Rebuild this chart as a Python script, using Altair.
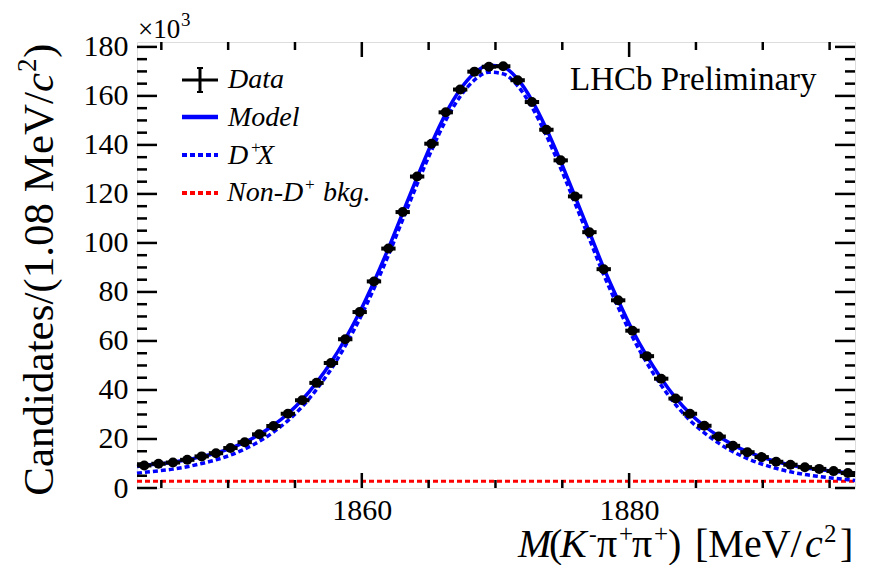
import altair as alt
import pandas as pd

# ---------------- data (in units of 10^3) -------
mass = [1843.72, 1844.79, 1845.87, 1846.94, 1848.02, 1849.09, 1850.17, 1851.24,
        1852.32, 1853.39, 1854.47, 1855.54, 1856.61, 1857.69, 1858.76, 1859.84,
        1860.91, 1861.99, 1863.06, 1864.14, 1865.21, 1866.28, 1867.36, 1868.43,
        1869.51, 1870.58, 1871.66, 1872.73, 1873.81, 1874.88, 1875.96, 1877.03,
        1878.10, 1879.18, 1880.25, 1881.33, 1882.40, 1883.48, 1884.55, 1885.63,
        1886.70, 1887.77, 1888.85, 1889.92, 1891.00, 1892.07, 1893.15, 1894.22,
        1895.30, 1896.37]
counts = [9.2, 9.9, 10.4, 11.5, 12.9, 14.2, 16.3, 18.7, 21.9, 25.3,
          30.3, 35.8, 42.9, 51.0, 60.7, 71.8, 84.3, 97.7, 112.6, 127.1,
          140.5, 153.3, 162.6, 169.9, 171.9, 172.1, 166.4, 157.5, 146.2, 133.7,
          119.0, 104.4, 89.3, 76.6, 64.2, 53.8, 44.6, 36.5, 30.3, 25.4,
          21.0, 17.2, 14.6, 12.6, 10.7, 9.5, 8.5, 7.8, 6.9, 6.1]
bin_half = 0.537

x_lo, x_hi = 1843.18, 1896.9
curve_mass = [x_lo] + mass + [x_hi]
model = [8.8, 9.2, 9.8, 10.5, 11.5, 12.8, 14.3, 16.2, 18.7, 21.8, 25.6,
         30.3, 36.0, 43.0, 51.2, 60.8, 71.8, 84.2, 97.8, 112.3, 126.8,
         140.5, 152.8, 162.6, 169.3, 172.5, 171.8, 166.9, 158.2, 146.6, 133.3,
         118.9, 104.4, 89.8, 76.6, 64.4, 53.8, 44.7, 36.8, 30.4, 25.3,
         21.1, 17.6, 14.8, 12.6, 10.8, 9.4, 8.3, 7.5, 6.8, 6.2, 5.9]
dplusx = [6.0, 6.4, 7.0, 7.7, 8.7, 10.0, 11.5, 13.4, 15.9, 19.0, 22.8,
          27.5, 33.2, 40.2, 48.4, 58.0, 69.0, 81.4, 95.0, 109.5, 124.0,
          137.7, 150.0, 159.8, 166.5, 169.7, 169.0, 164.1, 155.4, 143.8, 130.5,
          116.1, 101.6, 87.0, 73.8, 61.6, 51.0, 41.9, 34.0, 27.6, 22.5,
          18.3, 14.8, 12.0, 9.8, 8.0, 6.6, 5.5, 4.7, 4.0, 3.4, 3.1]
bkg_mass = [x_lo, x_hi]
bkg = [2.8, 2.8]

x_major = [1860, 1880]
x_minor = [1845, 1850, 1855, 1865, 1870, 1875, 1885, 1890, 1895]
y_major = [0, 20, 40, 60, 80, 100, 120, 140, 160, 180]
y_minor = [5, 10, 15, 25, 30, 35, 45, 50, 55, 65, 70, 75, 85, 90, 95, 105, 110,
           115, 125, 130, 135, 145, 150, 155, 165, 170, 175]

# ---------------- layout -------------------------------------------------------
W, H = 718, 446
OX, OY = 137, 42          # plot origin on the page
FONT = "Liberation Serif"
BLUE, RED = "#0000ff", "#ff0000"

data_df = pd.DataFrame({"m": mass, "n": counts,
                        "lo": [m - bin_half for m in mass],
                        "hi": [m + bin_half for m in mass]})
model_df = pd.DataFrame({"m": curve_mass, "model": model, "dx": dplusx})
bkg_df = pd.DataFrame({"m": bkg_mass, "b": bkg})

xs = alt.Scale(domain=[x_lo, x_hi], nice=False, zero=False)
ys = alt.Scale(domain=[0, 182], nice=False, zero=False)
AX = alt.Axis(values=x_major, format="d", ticks=False, domain=False, grid=False,
              labelFont=FONT, labelFontSize=30, labelColor="black", labelPadding=7,
              title=None)
AY = alt.Axis(values=y_major, format="d", ticks=False, domain=False, grid=False,
              labelFont=FONT, labelFontSize=30, labelColor="black", labelPadding=9,
              title=None)


def X(f):
    return alt.X(f, scale=xs, axis=AX)


def Y(f):
    return alt.Y(f, scale=ys, axis=AY)


one = pd.DataFrame({"k": [0]})


def txt(s, px, py, size, style="normal", align="left", angle=0, color="black"):
    return alt.Chart(one).mark_text(
        text=s, font=FONT, fontSize=size, fontStyle=style, align=align,
        baseline="alphabetic", angle=angle, color=color
    ).encode(x=alt.value(px - OX), y=alt.value(py - OY))


def hrule(x1, x2, y, color, width, dash=None):
    kw = dict(color=color, strokeWidth=width)
    if dash:
        kw["strokeDash"] = dash
    return alt.Chart(one).mark_rule(**kw).encode(
        x=alt.value(x1 - OX), x2=alt.value(x2 - OX), y=alt.value(y - OY))


def vrule(x, y1, y2, color, width):
    return alt.Chart(one).mark_rule(color=color, strokeWidth=width).encode(
        x=alt.value(x - OX), y=alt.value(y1 - OY), y2=alt.value(y2 - OY))


bkg_line = alt.Chart(bkg_df).mark_line(color=RED, strokeWidth=3, strokeDash=[5, 3]).encode(
    x=X("m:Q"), y=Y("b:Q"))
dx_line = alt.Chart(model_df).mark_line(color=BLUE, strokeWidth=3.5, strokeDash=[5, 3],
                                        interpolate="monotone").encode(
    x=X("m:Q"), y=Y("dx:Q"))
model_line = alt.Chart(model_df).mark_line(color=BLUE, strokeWidth=3.5,
                                           interpolate="monotone").encode(
    x=X("m:Q"), y=Y("model:Q"))
err = alt.Chart(data_df).mark_rule(color="black", strokeWidth=4).encode(
    x=X("lo:Q"), x2="hi:Q", y=Y("n:Q"))
pts = alt.Chart(data_df).mark_circle(color="black", opacity=1, size=100).encode(
    x=X("m:Q"), y=Y("n:Q"))

# ticks pointing inwards on all four sides
tick_layers = []
for vals, ln in ((x_major, 15), (x_minor, 8)):
    d = pd.DataFrame({"v": vals})
    for y1, y2 in ((H, H - ln), (0, ln)):
        tick_layers.append(alt.Chart(d).mark_rule(color="black", strokeWidth=2.5).encode(
            x=X("v:Q"), y=alt.value(y1), y2=alt.value(y2)))
for vals, ln in ((y_major, 20), (y_minor, 10)):
    d = pd.DataFrame({"v": vals})
    for x1, x2 in ((0, ln), (W, W - ln)):
        tick_layers.append(alt.Chart(d).mark_rule(color="black", strokeWidth=2.5).encode(
            y=Y("v:Q"), x=alt.value(x1), x2=alt.value(x2)))

# texts
texts = [
    # x10^3
    txt("×10", 138, 38, 27),
    txt("3", 181, 26, 19),
    # LHCb
    txt("LHCb Preliminary", 570, 90, 33),
    # legend
    txt("Data", 228, 88, 28, "italic"),
    txt("Model", 228, 126, 28, "italic"),
    txt("D", 228, 164, 28, "italic"),
    txt("+", 250, 153, 17, "italic"),
    txt("X", 257, 164, 28, "italic"),
    txt("Non-D", 227, 201, 28, "italic"),
    txt("+", 304, 190, 17, "italic"),
    txt("bkg.", 323, 201, 28, "italic"),
    # x title
    txt("M", 518, 557, 40, "italic"),
    txt("(", 549, 557, 40),
    txt("K", 560, 557, 40, "italic"),
    txt("-", 589, 542, 23),
    txt("π", 597, 557, 40),
    txt("+", 619, 542, 25),
    txt("π", 632, 557, 40),
    txt("+", 654, 542, 25),
    txt(")", 668, 557, 40),
    txt("[MeV/", 695, 557, 40),
    txt("c", 805, 557, 40, "italic"),
    txt("2", 824, 542, 25),
    txt("]", 840, 557, 40),
    # y title (rotated)
    txt("Candidates/(1.08 MeV/", 53, 92, 43, align="right", angle=270),
    txt("c", 53, 92, 43, "italic", angle=270),
    txt("2", 36, 72, 27, angle=270),
    txt(")", 53, 58, 43, angle=270),
]

legend = [
    hrule(182, 218, 80, "black", 3),
    vrule(200, 68, 92, "black", 3),
    hrule(197, 203, 68, "black", 2),
    hrule(197, 203, 92, "black", 2),
    hrule(182, 218, 117, BLUE, 4.5),
    hrule(182, 218, 155, BLUE, 4, [5, 3]),
    hrule(182, 218, 193, RED, 4, [5, 3]),
]

chart = alt.layer(bkg_line, dx_line, model_line, err, pts, *tick_layers, *legend, *texts).properties(
    width=W, height=H,
    padding={"left": 129, "top": 34, "right": 13, "bottom": 77},
    autosize=alt.AutoSizeParams(type="none"),
).configure_view(stroke="black", strokeWidth=3).configure(background="white")

chart.save("out.html", embed_options={"renderer": "svg", "actions": False})
